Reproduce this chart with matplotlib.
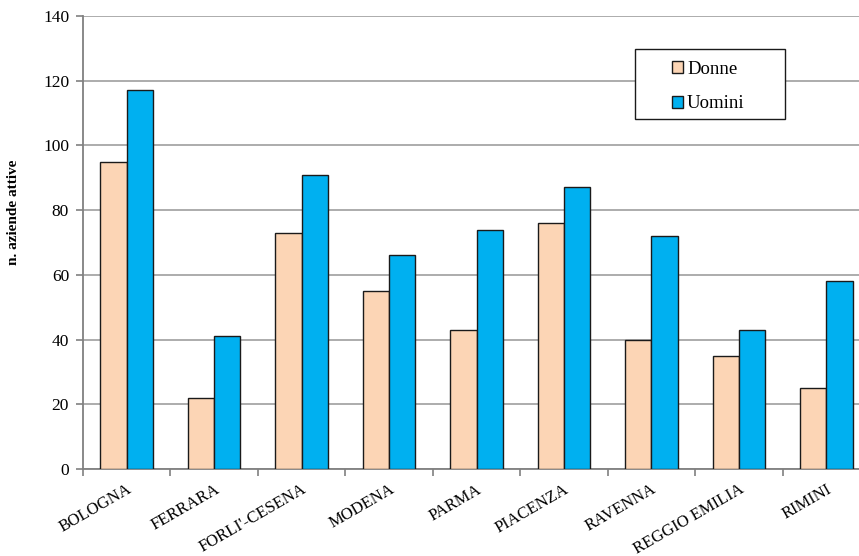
import matplotlib
matplotlib.use("Agg")
import matplotlib.pyplot as plt
from matplotlib.patches import Rectangle
import numpy as np

categories = ["BOLOGNA", "FERRARA", "FORLI'-CESENA", "MODENA", "PARMA",
              "PIACENZA", "RAVENNA", "REGGIO EMILIA", "RIMINI"]
donne = [95, 22, 73, 55, 43, 76, 40, 35, 25]
uomini = [117, 41, 91, 66, 74, 87, 72, 43, 58]
yticks = [0, 20, 40, 60, 80, 100, 120, 140]

plt.rcParams['font.family'] = ['Liberation Serif', 'DejaVu Serif']

fig = plt.figure(figsize=(8.59, 5.56), dpi=100)
AX_L, AX_B, AX_W, AX_H = 83, 87, 787, 453
ax = fig.add_axes([AX_L/859, AX_B/556, AX_W/859, AX_H/556])

x = np.arange(len(categories))
w = 0.30
ax.bar(x - w/2, donne, w, color='#FCD5B5', edgecolor='#1a1a1a', linewidth=1.0, label='Donne', zorder=3)
ax.bar(x + w/2, uomini, w, color='#00B0F0', edgecolor='#1a1a1a', linewidth=1.0, label='Uomini', zorder=3)

ax.set_xlim(-0.5, len(categories) - 0.5)
ax.set_ylim(0, 140)
ax.set_yticks(yticks)
ax.yaxis.grid(True, color='#a6a6a6', linewidth=1.3, zorder=0)
ax.set_axisbelow(True)
ax.tick_params(axis='y', labelsize=12.5, direction='out', length=5, color='#808080', width=1.2, pad=5)

ax.set_xticks(np.arange(len(categories) + 1) - 0.5)
ax.set_xticklabels([])
ax.tick_params(axis='x', direction='out', length=5, color='#808080', width=1.2)
ax.set_xticks(x, minor=True)
ax.set_xticklabels(categories, minor=True, rotation=30, ha='right', rotation_mode='anchor', fontsize=12)
ax.tick_params(axis='x', which='minor', length=0, pad=9)

for s in ['top', 'right']:
    ax.spines[s].set_visible(False)
ax.spines['left'].set_color('#808080')
ax.spines['left'].set_linewidth(1.3)
ax.spines['bottom'].set_color('#808080')
ax.spines['bottom'].set_linewidth(1.3)

ax.set_ylabel('n. aziende attive', fontsize=11, fontweight='bold')
ax.yaxis.set_label_coords((20 - AX_L)/AX_W, (556 - AX_B - 212) / AX_H)

def ax_xy(px, py):
    return (px - AX_L)/AX_W, (556 - py - AX_B)/AX_H

bx0, by0 = ax_xy(635, 119)
bx1, by1 = ax_xy(785, 49)
box = Rectangle((bx0, by0), bx1 - bx0, by1 - by0, transform=ax.transAxes,
                facecolor='white', edgecolor='#1a1a1a', linewidth=1.0, zorder=5)
ax.add_patch(box)

lx, ly = ax_xy(666, 55)
leg = ax.legend(loc='upper left', bbox_to_anchor=(lx, ly),
                fontsize=13.5, frameon=False,
                handlelength=0.6, handleheight=0.6, handletextpad=0.22,
                labelspacing=0.95, borderpad=0.3, borderaxespad=0)
leg.set_zorder(6)

fig.savefig('out.png', dpi=100)
